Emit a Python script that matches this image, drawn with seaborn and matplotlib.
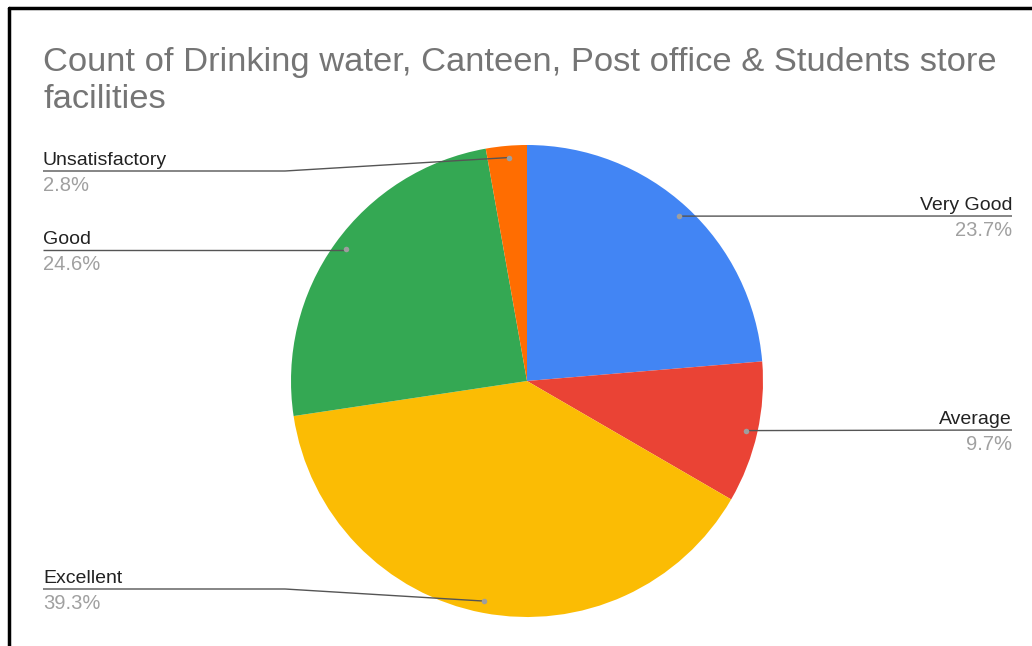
import numpy as np
import matplotlib.pyplot as plt
import seaborn as sns
from matplotlib.lines import Line2D

# data (clockwise from 12 o'clock)
categories = ["Very Good", "Average", "Excellent", "Good", "Unsatisfactory"]
shares = [23.7, 9.7, 39.3, 24.6, 2.8]
colors = ["#4285F4", "#EA4335", "#FBBC04", "#34A853", "#FF6D01"]
title = "Count of Drinking water, Canteen, Post office & Students store\nfacilities"

sns.set_theme(style="white")
plt.rcParams["font.family"] = ["Liberation Sans", "DejaVu Sans"]

W, H = 1032, 646
fig = plt.figure(figsize=(W / 100, H / 100), dpi=100)
ax = fig.add_axes([0, 0, 1, 1])

# pie geometry in pixel units (y up)
cx, cy, r = 527, H - 381, 236
wedges, _ = ax.pie(shares, colors=colors, startangle=90, counterclock=False,
                   center=(cx, cy), radius=r, frame=True,
                   wedgeprops=dict(linewidth=0))
ax.set_xlim(0, W)
ax.set_ylim(0, H)
ax.set_aspect("equal")
ax.axis("off")

# label placement: side, line y (from top), elbow x
label_pos = {
    "Very Good": ("right", 216, None),
    "Average": ("right", 430, None),
    "Excellent": ("left", 589, 285),
    "Good": ("left", 250, None),
    "Unsatisfactory": ("left", 171, 285),
}

cum = np.cumsum([0] + shares[:-1])
for name, start, val in zip(categories, cum, shares):
    mid = np.deg2rad(90 - (start + val / 2) * 3.6)
    dx, dy = cx + 0.95 * r * np.cos(mid), cy + 0.95 * r * np.sin(mid)
    side, ly, elbow = label_pos[name]
    ly = H - ly
    if side == "right":
        xs, ys = [dx, 1012], [dy, ly]
        tx, ha = 1012, "right"
    else:
        if elbow is None:
            xs, ys = [dx, 43], [ly, ly]
        else:
            xs, ys = [dx, elbow, 43], [dy, ly, ly]
        tx, ha = 43, "left"
    ax.plot(xs, ys, color="#555555", lw=1.0, solid_capstyle="butt")
    ax.plot([dx], [dy], "o", ms=4, color="#9e9e9e", mec="none")
    ax.text(tx, ly + 6, name, ha=ha, va="baseline", fontsize=14, color="#222222")
    ax.text(tx, ly - 5, f"{val}%", ha=ha, va="top", fontsize=14.5, color="#a0a0a0")

fig.text(43 / W, 1 - 47 / H, title, ha="left", va="top", fontsize=24.8,
         color="#757575", linespacing=1.25)

# outer frame: only top and left edges visible
fig.add_artist(Line2D([9 / W, 9 / W], [0, 1 - 8 / H], transform=fig.transFigure,
                      color="black", lw=2.5))
fig.add_artist(Line2D([9 / W, 1], [1 - 8 / H, 1 - 8 / H], transform=fig.transFigure,
                      color="black", lw=2.5))

fig.savefig("out.png", dpi=100, facecolor="white")
